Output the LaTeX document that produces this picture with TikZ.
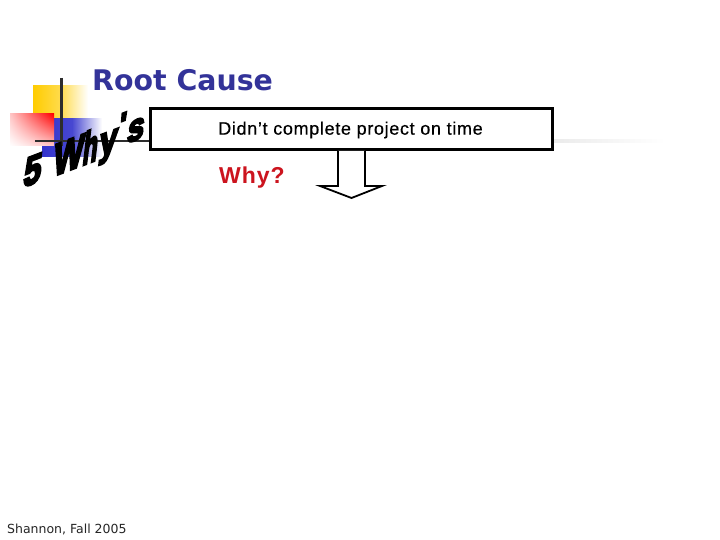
\documentclass[tikz,border=0pt]{standalone}
\usepackage{fontspec}
\usetikzlibrary{shadings}
\setmainfont{Liberation Sans}
\newfontfamily\dejavu{DejaVu Sans}
\newfontfamily\boxfont[LetterSpace=3.7,FakeBold=0.4]{Liberation Sans}
\newfontfamily\whyfont[LetterSpace=4,BoldFeatures={LetterSpace=4}]{Liberation Sans}
\newfontfamily\wafont[BoldFeatures={FakeBold=6}]{Liberation Sans}
\definecolor{titleblue}{RGB}{51,51,153}
\definecolor{whyred}{RGB}{204,20,30}
\definecolor{squareyellow}{RGB}{255,204,0}
\definecolor{squareblue}{RGB}{51,51,204}
\definecolor{linegrey}{RGB}{45,45,45}
\tikzset{
  titletext/.style={inner sep=0pt,anchor=west,text=titleblue,font=\dejavu\bfseries\fontsize{28.4}{30}\selectfont},
  boxshape/.style={draw=black,line width=3pt,fill=white,minimum width=402pt,minimum height=41pt,inner sep=0pt},
  boxtext/.style={inner sep=0pt,font=\boxfont\fontsize{18}{20}\selectfont},
  whytext/.style={inner sep=0pt,anchor=west,text=whyred,font=\whyfont\bfseries\fontsize{23}{25}\selectfont},
  foot/.style={inner sep=0pt,anchor=west,font=\dejavu\fontsize{12.5}{15}\selectfont,text=black!85},
  wa/.style={inner sep=0pt,text=black,transform shape,font=\wafont\bfseries\fontsize{30}{30}\selectfont}
}
% one letter of the slanted title: name, x, y, x scale, y scale, letter
\newcommand{\waletter}[6]{%
  \begin{scope}[shift={(#2,#3)},cm={#4,#4*0.38,#5*0.12,#5,(0,0)}]
    \node[wa] (#1) at (0,0) {#6};
  \end{scope}}
\begin{document}
\begin{tikzpicture}[x=1pt,y=-1pt]
\useasboundingbox[fill=white] (0,0) rectangle (720,540);
% decoration squares
\shade[left color=squareyellow,right color=white,middle color=squareyellow!70!white] (33,86) rectangle (88,142);
\shade[left color=squareblue,right color=white,middle color=squareblue!90!white] (42,119) rectangle (102,157);
\shade[upper right=red,lower left=white,upper left=red!22!white,lower right=red!22!white] (10,114) rectangle (54,146);
\draw[linegrey,line width=2.4pt] (61.5,78) -- (61.5,146);
\draw[linegrey,line width=2.4pt] (35,141) -- (150,141);
\shade[left color=black!8,right color=white] (553,140) rectangle (665,143);
% wordart
\waletter{n5}{33}{170}{1.05}{1.4}{5}
\waletter{nW}{69}{155}{1.05}{1.55}{W}
\waletter{nh}{91}{146}{.8}{1.55}{h}
\waletter{ny}{108}{147}{1.05}{1.4}{y}
\waletter{nq}{123}{124}{1}{1.1}{'}
\waletter{ns}{136}{130}{1}{1.3}{s}
% text
\node[titletext] (title) at (92,80) {Root Cause};
\node[boxshape] (box) at (351,129.5) {};
\node[boxtext] (boxlabel) at (350.5,130) {Didn’t complete project on time};
\node[whytext] (why) at (219,178) {Why?};
\node[foot] (shannon) at (7,529) {Shannon, Fall 2005};
% block arrow
\coordinate (sl) at (338,151);
\coordinate (sr) at (365,151);
\coordinate (tip) at (351.5,198);
\draw[fill=white,line width=1.8pt,line join=miter] (sl) -- (338,186) -- (320,186) -- (tip) -- (382,186) -- (365,186) -- (sr);
\end{tikzpicture}
\end{document}
